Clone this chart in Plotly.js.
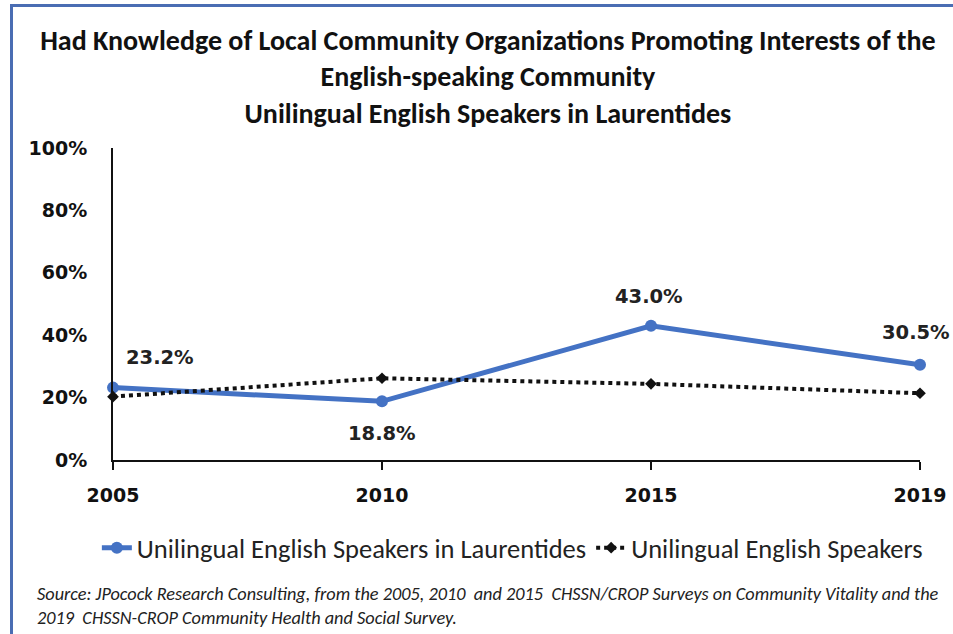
<!DOCTYPE html>
<html>
<head>
<meta charset="utf-8">
<script src="https://cdn.plot.ly/plotly-3.0.1.min.js"></script>
<style>
  html, body { margin: 0; padding: 0; background: #fff; }
  #wrap { position: relative; width: 953px; height: 634px; overflow: hidden; }
  #chart { position: absolute; left: 0; top: 0; width: 953px; height: 634px; }
  #frame { position: absolute; left: 10px; top: 4px; width: 960px; height: 700px;
           border-left: 3px solid #4a6db3; border-top: 3px solid #4a6db3; pointer-events: none; }
</style>
</head>
<body>
<div id="wrap">
  <div id="chart"></div>
  <div id="frame"></div>
</div>
<script>
const years = ['2005', '2010', '2015', '2019'];
const laurentides = [23.2, 18.8, 43.0, 30.5];
const unilingual = [20.3, 26.2, 24.4, 21.4];
const laurentidesLabels = ['23.2%', '18.8%', '43.0%', '30.5%'];
const seriesNames = ['Unilingual English Speakers in Laurentides', 'Unilingual English Speakers'];
const yTicks = [0, 20, 40, 60, 80, 100];
const yTickLabels = ['0%', '20%', '40%', '60%', '80%', '100%'];
const titleText = 'Had Knowledge of Local Community Organizations Promoting Interests of the<br>English-speaking Community<br>Unilingual English Speakers in Laurentides';
const sourceText = 'Source: JPocock Research Consulting, from the 2005, 2010  and 2015  CHSSN/CROP Surveys on Community Vitality and the<br>2019  CHSSN-CROP Community Health and Social Survey.';

const narrow = 'Carlito, "Liberation Sans Narrow", "Open Sans", sans-serif';
const wide = '"DejaVu Sans", Verdana, sans-serif';

const traces = [
  {
    x: years, y: laurentides, name: seriesNames[0], type: 'scatter', mode: 'lines+markers',
    line: { color: '#4472C4', width: 5 },
    marker: { color: '#4472C4', size: 12, symbol: 'circle' },
    cliponaxis: false
  },
  {
    x: years, y: unilingual, name: seriesNames[1], type: 'scatter', mode: 'lines+markers',
    line: { color: '#111', width: 4, dash: 'dot' },
    marker: { color: '#111', size: 9, symbol: 'diamond' },
    cliponaxis: false
  }
];

const labelOffsets = [[47, 30], [0, -32], [-2, 29], [-4, 32]];
const annotations = years.map((yr, i) => ({
  x: i, y: laurentides[i], text: '<b>' + laurentidesLabels[i] + '</b>',
  showarrow: false, xref: 'x', yref: 'y',
  xshift: labelOffsets[i][0], yshift: labelOffsets[i][1],
  font: { family: wide, size: 19.5, color: '#222' }
}));
annotations.push({
  text: '<i>' + sourceText + '</i>', xref: 'paper', yref: 'paper',
  x: -0.097, y: -0.387, xanchor: 'left', yanchor: 'top', align: 'left', showarrow: false,
  font: { family: narrow, size: 18.3, color: '#222' }
});

const layout = {
  width: 953, height: 634,
  margin: { l: 113, r: 33, t: 148, b: 174 },
  paper_bgcolor: '#fff', plot_bgcolor: '#fff',
  showlegend: true,
  title: {
    text: '<b>' + titleText + '</b>',
    x: 0.512, xanchor: 'center', y: 0.921, yanchor: 'top',
    font: { family: narrow, size: 28, color: '#111' }
  },
  xaxis: {
    type: 'category', range: [0, 3], showgrid: false, zeroline: false,
    showline: true, linecolor: '#111', linewidth: 2,
    ticks: 'outside', ticklen: 8, tickwidth: 2, tickcolor: '#111',
    ticklabelstandoff: 9,
    tickfont: { family: wide, size: 19, color: '#111', weight: 'bold' }
  },
  yaxis: {
    range: [0, 100], tickvals: yTicks, ticktext: yTickLabels, showgrid: false, zeroline: false,
    showline: true, linecolor: '#111', linewidth: 2, ticks: '',
    ticklabelstandoff: 20,
    tickfont: { family: wide, size: 19, color: '#111', weight: 'bold' }
  },
  legend: {
    orientation: 'h', x: -0.02, xanchor: 'left', y: -0.205, yanchor: 'top',
    font: { family: narrow, size: 26.5, color: '#222' }
  },
  annotations: annotations
};

Plotly.newPlot('chart', traces, layout, { displayModeBar: false, staticPlot: true });
</script>
</body>
</html>
